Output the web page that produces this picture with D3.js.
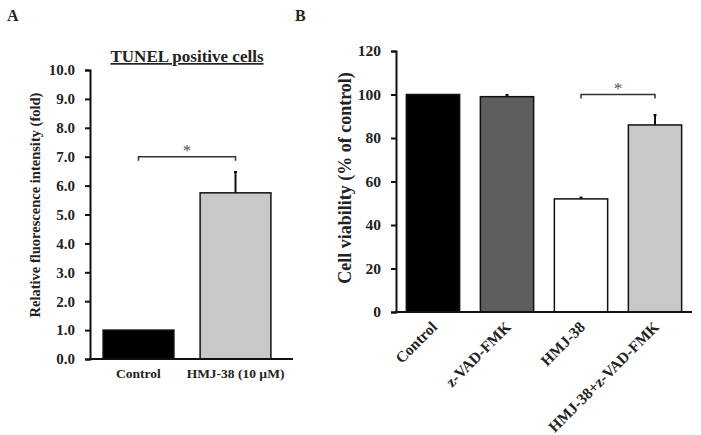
<!DOCTYPE html>
<html>
<head>
<meta charset="utf-8">
<script src="https://cdn.jsdelivr.net/npm/d3@7"></script>
<style>
  body { margin: 0; background: #fff; }
  text { font-family: "Liberation Serif", "Times New Roman", serif; font-weight: bold; fill: #222; }
</style>
</head>
<body>
<svg id="chart" width="701" height="435"></svg>
<script>
// panel A data
var catsA = ["Control", "HMJ-38 (10 \u00b5M)"];
var valsA = [1.0, 5.75];
var errA = [0, 0.72];
var colorsA = ["#000000", "#c8c8c8"];
var ticksA = [0, 1, 2, 3, 4, 5, 6, 7, 8, 9, 10];

// panel B data
var catsB = ["Control", "z-VAD-FMK", "HMJ-38", "HMJ-38+z-VAD-FMK"];
var valsB = [100, 99, 52, 86];
var errB = [0, 0.8, 0.6, 4.6];
var colorsB = ["#000000", "#5e5e5e", "#ffffff", "#c8c8c8"];
var ticksB = [0, 20, 40, 60, 80, 100, 120];

var svg = d3.select("#chart");

// panel letters
svg.append("text").attr("x", 7).attr("y", 21).style("font-size", "16px").text("A");
svg.append("text").attr("x", 295).attr("y", 21).style("font-size", "16px").text("B");

function errorBars(g, x, y, cats, vals, errs) {
  var rows = vals.map(function(v, i) { return {c: cats[i], v: v, e: errs[i]}; })
      .filter(function(d) { return d.e > 0; });
  var cx = function(d) { return x(d.c) + x.bandwidth() / 2; };
  g.selectAll("line.err")
      .data(rows)
    .enter().append("line")
      .attr("class", "err")
      .attr("x1", cx).attr("x2", cx)
      .attr("y1", function(d) { return y(d.v); })
      .attr("y2", function(d) { return y(d.v + d.e); })
      .attr("stroke", "#111").attr("stroke-width", 2);
  g.selectAll("line.cap")
      .data(rows)
    .enter().append("line")
      .attr("class", "cap")
      .attr("x1", function(d) { return cx(d) - 1.5; })
      .attr("x2", function(d) { return cx(d) + 1.5; })
      .attr("y1", function(d) { return y(d.v + d.e); })
      .attr("y2", function(d) { return y(d.v + d.e); })
      .attr("stroke", "#111").attr("stroke-width", 2);
}

function bracket(g, x0, x1, yy, starY) {
  g.append("path")
      .attr("d", "M" + x0 + "," + (yy + 4) + "V" + yy + "H" + x1 + "V" + (yy + 4))
      .attr("fill", "none").attr("stroke", "#333").attr("stroke-width", 1.5);
  g.append("text")
      .attr("x", (x0 + x1) / 2).attr("y", starY)
      .attr("text-anchor", "middle")
      .style("font-size", "17px").style("font-weight", "normal").style("fill", "#555")
      .text("*");
}

function styleAxis(ax, size) {
  ax.select(".domain").attr("stroke", "#111").attr("stroke-width", 2);
  ax.selectAll(".tick line").attr("stroke", "#111").attr("stroke-width", 2);
  ax.selectAll(".tick text")
      .style("font-size", size)
      .style("font-family", "Liberation Serif")
      .style("font-weight", "bold")
      .attr("fill", "#222");
}

// ---------- panel A ----------
var xA = d3.scaleBand().domain(catsA).range([90, 284]).paddingInner(0.27).paddingOuter(0.135);
var yA = d3.scaleLinear().domain([0, 10]).range([359, 70]);

var gA = svg.append("g");

gA.selectAll("rect.bar")
    .data(valsA)
  .enter().append("rect")
    .attr("class", "bar")
    .attr("x", function(d, i) { return xA(catsA[i]); })
    .attr("width", xA.bandwidth())
    .attr("y", function(d) { return yA(d); })
    .attr("height", function(d) { return yA(0) - yA(d); })
    .attr("fill", function(d, i) { return colorsA[i]; })
    .attr("stroke", "#111")
    .attr("stroke-width", 1.5);

errorBars(gA, xA, yA, catsA, valsA, errA);

// y axis
var axA = gA.append("g")
    .attr("transform", "translate(90,0)")
    .call(d3.axisLeft(yA).tickValues(ticksA).tickFormat(d3.format(".1f")).tickSize(5).tickPadding(10));
styleAxis(axA, "15px");

// x baseline
gA.append("line")
    .attr("x1", 89).attr("x2", 293)
    .attr("y1", yA(0)).attr("y2", yA(0))
    .attr("stroke", "#111").attr("stroke-width", 2);

gA.selectAll("text.xlab")
    .data(catsA)
  .enter().append("text")
    .attr("class", "xlab")
    .attr("x", function(d) { return xA(d) + xA.bandwidth() / 2; })
    .attr("y", 378)
    .attr("text-anchor", "middle")
    .style("font-size", "13.5px")
    .text(function(d) { return d; });

// title, underlined
gA.append("text")
    .attr("x", 187).attr("y", 62)
    .attr("text-anchor", "middle")
    .style("font-size", "17px")
    .style("text-decoration", "underline")
    .text("TUNEL positive cells");

// y label
gA.append("text")
    .attr("transform", "translate(40,205) rotate(-90)")
    .attr("text-anchor", "middle")
    .style("font-size", "14.5px")
    .text("Relative fluorescence intensity (fold)");

var cA0 = xA(catsA[0]) + xA.bandwidth() / 2, cA1 = xA(catsA[1]) + xA.bandwidth() / 2;
bracket(gA, cA0, cA1, yA(7), yA(7) - 1);

// ---------- panel B ----------
var xB = d3.scaleBand().domain(catsB).range([396, 692]).paddingInner(0.28).paddingOuter(0.14);
var yB = d3.scaleLinear().domain([0, 120]).range([312, 51]);

var gB = svg.append("g");

gB.selectAll("rect.bar")
    .data(valsB)
  .enter().append("rect")
    .attr("class", "bar")
    .attr("x", function(d, i) { return xB(catsB[i]); })
    .attr("width", xB.bandwidth())
    .attr("y", function(d) { return yB(d); })
    .attr("height", function(d) { return yB(0) - yB(d); })
    .attr("fill", function(d, i) { return colorsB[i]; })
    .attr("stroke", "#111")
    .attr("stroke-width", 1.5);

errorBars(gB, xB, yB, catsB, valsB, errB);

var axB = gB.append("g")
    .attr("transform", "translate(396,0)")
    .call(d3.axisLeft(yB).tickValues(ticksB).tickSize(5).tickPadding(10));
styleAxis(axB, "15.5px");

gB.append("line")
    .attr("x1", 395).attr("x2", 692)
    .attr("y1", yB(0)).attr("y2", yB(0))
    .attr("stroke", "#111").attr("stroke-width", 2);

gB.selectAll("text.xlab")
    .data(catsB)
  .enter().append("text")
    .attr("class", "xlab")
    .attr("transform", function(d) { return "translate(" + (xB(d) + xB.bandwidth() / 2 + 5) + ",328) rotate(-45)"; })
    .attr("text-anchor", "end")
    .style("font-size", "15.5px")
    .text(function(d) { return d; });

gB.append("text")
    .attr("transform", "translate(351,178) rotate(-90)")
    .attr("text-anchor", "middle")
    .style("font-size", "18px")
    .text("Cell viability (% of control)");

var cB0 = xB(catsB[2]) + xB.bandwidth() / 2, cB1 = xB(catsB[3]) + xB.bandwidth() / 2;
bracket(gB, cB0, cB1, yB(100), yB(100) - 1);
</script>
</body>
</html>
